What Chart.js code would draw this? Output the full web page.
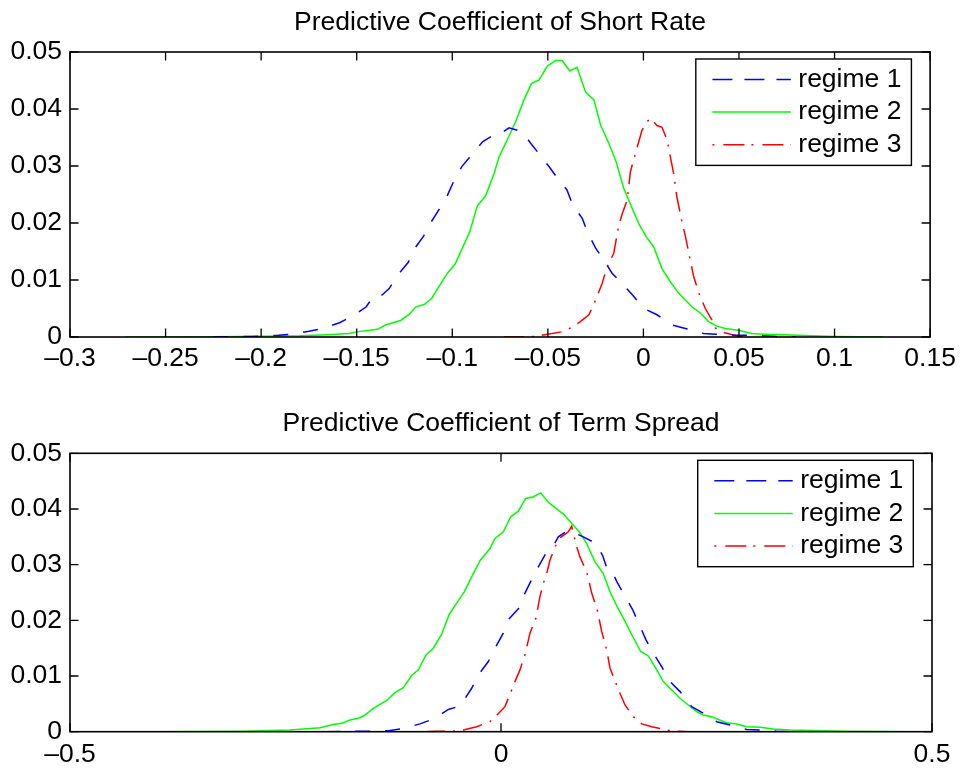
<!DOCTYPE html>
<html><head><meta charset="utf-8">
<script src="https://cdn.jsdelivr.net/npm/chart.js@4.4.1/dist/chart.umd.min.js"></script>
<style>
html,body{margin:0;padding:0;background:#fff;}
#wrap{position:relative;width:962px;height:772px;overflow:hidden;}
canvas{position:absolute;left:0;}
#c1{top:0;} #c2{top:386px;}
</style></head><body>
<div id="wrap"><canvas id="c1" width="962" height="386"></canvas><canvas id="c2" width="962" height="386"></canvas></div>
<script>
// ---------- data ----------
const seriesLabels = ['regime 1', 'regime 2', 'regime 3'];
const titleTop = 'Predictive Coefficient of Short Rate';
const titleBottom = 'Predictive Coefficient of Term Spread';

const xTicksTop = [-0.3, -0.25, -0.2, -0.15, -0.1, -0.05, 0, 0.05, 0.1, 0.15];
const xTicksBottom = [-0.5, 0, 0.5];
const yTicks = [0, 0.01, 0.02, 0.03, 0.04, 0.05];

// Short rate, regime 1
const srR1x = [-0.225,-0.205,-0.191,-0.184,-0.175,-0.168,-0.159,-0.152,-0.145,-0.142,-0.139,-0.133,-0.129,-0.123,-0.12,-0.115,-0.111,-0.1065,-0.1025,-0.099,-0.095,-0.0895,-0.084,-0.077,-0.0755,-0.0703,-0.0634,-0.059,-0.054,-0.0494,-0.0442,-0.04,-0.037,-0.032,-0.029,-0.025,-0.0207,-0.0164,-0.0103,-0.005,0.0002,0.0071,0.0149,0.022,0.0315,0.038,0.048,0.055,0.07,0.08];
const srR1y = [0,0.0001,0.0003,0.0005,0.001,0.0015,0.0025,0.0037,0.0053,0.0068,0.0067,0.0085,0.0107,0.0131,0.0154,0.0177,0.0202,0.0226,0.0249,0.0275,0.0299,0.0321,0.0343,0.0357,0.0355,0.0367,0.036,0.034,0.0319,0.0299,0.0275,0.0258,0.0232,0.0208,0.0182,0.0156,0.0135,0.0112,0.0091,0.0071,0.005,0.0039,0.0021,0.0015,0.0006,0.0005,0.0003,0.0003,0.0001,0];
// Short rate, regime 2
const srR2x = [-0.271,-0.24,-0.21,-0.18,-0.165,-0.154,-0.15,-0.139,-0.135,-0.127,-0.1225,-0.119,-0.1147,-0.1107,-0.1065,-0.1025,-0.0985,-0.0947,-0.0908,-0.0869,-0.0825,-0.0781,-0.0755,-0.0712,-0.0668,-0.0625,-0.0585,-0.0546,-0.0503,-0.0459,-0.0425,-0.0386,-0.0347,-0.0303,-0.0259,-0.0224,-0.0181,-0.0143,-0.0103,-0.0063,-0.0024,0.0014,0.0054,0.0097,0.0141,0.0184,0.0219,0.0254,0.0298,0.0341,0.0384,0.0428,0.0498,0.0567,0.0628,0.0811,0.1,0.1255];
const srR2y = [0,0,0.0001,0.0002,0.0004,0.0006,0.0009,0.00135,0.0021,0.0029,0.004,0.0053,0.0057,0.0068,0.0091,0.0112,0.0128,0.0156,0.0185,0.023,0.0248,0.0287,0.0316,0.0346,0.0378,0.0416,0.0445,0.0451,0.0475,0.0485,0.0485,0.0467,0.0473,0.043,0.0416,0.0372,0.034,0.0308,0.0261,0.0229,0.0199,0.0176,0.0158,0.012,0.0097,0.0077,0.0065,0.0053,0.0042,0.0027,0.0019,0.0015,0.0012,0.0006,0.0005,0.0003,0.0001,0];
// Short rate, regime 3
const srR3x = [-0.073,-0.056,-0.05,-0.043,-0.038,-0.033,-0.0285,-0.025,-0.0216,-0.019,-0.0155,-0.013,-0.011,-0.0085,-0.0068,-0.0042,-0.0007,0.002,0.0037,0.0071,0.0097,0.0125,0.0141,0.0158,0.0175,0.0202,0.022,0.0245,0.0263,0.029,0.0324,0.0358,0.0376,0.042,0.05,0.055];
const srR3y = [0,0.0001,0.0005,0.0009,0.0016,0.0027,0.0039,0.0065,0.0094,0.0123,0.0147,0.0194,0.0217,0.024,0.029,0.0322,0.0363,0.0378,0.0384,0.0371,0.0368,0.0345,0.0316,0.0287,0.0246,0.0202,0.0176,0.0135,0.0106,0.0077,0.005,0.003,0.0016,0.0008,0.0001,0];

// Term spread, regime 1
const tsR1x = [-0.204,-0.1655,-0.15,-0.1288,-0.1133,-0.094,-0.0766,-0.0611,-0.0476,-0.034,-0.0263,-0.0147,-0.007,0.0027,0.0085,0.022,0.0278,0.0368,0.0444,0.053,0.06,0.0665,0.0781,0.0955,0.1102,0.118,0.1245,0.13,0.1342,0.1439,0.1528,0.1605,0.1682,0.1767,0.1864,0.196,0.2077,0.2212,0.2347,0.2502,0.2657,0.285,0.3005,0.3198,0.3353];
const tsR1y = [0,0.0001,0.0001,0.0002,0.0006,0.0014,0.0024,0.004,0.0046,0.0078,0.0102,0.0126,0.015,0.0177,0.0201,0.0224,0.0249,0.0277,0.0299,0.0323,0.0332,0.035,0.0362,0.035,0.0338,0.0316,0.0286,0.0284,0.027,0.0243,0.0219,0.0192,0.0165,0.0141,0.0117,0.009,0.0072,0.0045,0.0033,0.0018,0.0012,0.0004,0.0003,0.0001,0];
// Term spread, regime 2
const tsR2x = [-0.406,-0.3,-0.2448,-0.21,-0.1945,-0.1848,-0.1752,-0.1655,-0.1578,-0.1481,-0.1326,-0.123,-0.1133,-0.1036,-0.0959,-0.087,-0.0785,-0.0688,-0.06,-0.0514,-0.0426,-0.034,-0.0244,-0.0128,-0.007,0.0027,0.0113,0.0201,0.0287,0.0375,0.0461,0.0549,0.0638,0.0731,0.082,0.0908,0.0994,0.109,0.1187,0.1265,0.1349,0.1439,0.1528,0.1621,0.1709,0.1795,0.1883,0.198,0.2077,0.2173,0.227,0.2347,0.2444,0.2521,0.2618,0.2734,0.285,0.3005,0.3159,0.3353,0.4,0.4722];
const tsR2y = [0,0.0001,0.0003,0.0007,0.0013,0.0015,0.0021,0.0024,0.003,0.0042,0.0056,0.007,0.0079,0.0101,0.0111,0.0138,0.015,0.0175,0.0211,0.0231,0.0251,0.0278,0.0307,0.0329,0.0347,0.0359,0.0386,0.0396,0.0419,0.0422,0.0429,0.0412,0.0401,0.039,0.0374,0.0359,0.0338,0.0305,0.0284,0.0251,0.0224,0.0198,0.0171,0.0144,0.0136,0.0114,0.009,0.0075,0.006,0.0048,0.0036,0.003,0.0027,0.0022,0.0016,0.0014,0.0009,0.0008,0.0005,0.0003,0.0001,0];
// Term spread, regime 3
const tsR3x = [-0.0882,-0.0746,-0.0553,-0.0437,-0.0282,-0.0128,-0.0046,0.0046,0.0124,0.0162,0.022,0.0278,0.0305,0.0336,0.0406,0.0452,0.0499,0.053,0.0568,0.0626,0.0693,0.0781,0.082,0.0878,0.0916,0.0994,0.1024,0.1052,0.1117,0.1168,0.1226,0.1265,0.1334,0.138,0.1439,0.1535,0.1632,0.1748,0.1922,0.2035,0.2193];
const tsR3y = [0,0.0001,0.0001,0.0003,0.0009,0.0018,0.003,0.0045,0.0075,0.009,0.0111,0.0138,0.0156,0.0177,0.0204,0.0243,0.027,0.0284,0.0308,0.0332,0.0349,0.0359,0.0369,0.0332,0.0314,0.0287,0.0268,0.0249,0.0219,0.018,0.0147,0.0114,0.0087,0.0069,0.0048,0.0027,0.0014,0.0009,0.0003,0.0001,0];

// ---------- styling ----------
const FONT = "'Liberation Sans', Arial, Helvetica, sans-serif";
const FS = 26.5;
const colors = ['#0000ff', '#00ff00', '#ff0000'];
const plotDash = [[15, 15], [], [20, 8, 2, 8]];
const legendDash = [[20, 12], [], [2, 9, 21, 7]];

function fmt(v) {
  if (v === 0) return '0';
  return v < 0 ? '\u2013' + String(-v) : String(v);
}
function pts(xs, ys) { return xs.map((x, i) => ({ x: x, y: ys[i] })); }

const framePlugin = {
  id: 'matlabFrame',
  afterDatasetsDraw(chart) {
    const ctx = chart.ctx, a = chart.chartArea, x = chart.scales.x, y = chart.scales.y;
    const L = 8.5;
    ctx.save();
    ctx.strokeStyle = '#000';
    ctx.lineWidth = 1.3;
    ctx.setLineDash([]);
    ctx.beginPath();
    x.ticks.forEach(t => {
      const px = x.getPixelForValue(t.value);
      ctx.moveTo(px, a.bottom); ctx.lineTo(px, a.bottom - L);
      ctx.moveTo(px, a.top); ctx.lineTo(px, a.top + L);
    });
    y.ticks.forEach(t => {
      const py = y.getPixelForValue(t.value);
      ctx.moveTo(a.left, py); ctx.lineTo(a.left + L, py);
      ctx.moveTo(a.right, py); ctx.lineTo(a.right - L, py);
    });
    ctx.stroke();
    ctx.lineWidth = 1.6;
    ctx.strokeRect(a.left, a.top, a.right - a.left, a.bottom - a.top);
    ctx.restore();
  }
};

const legendPlugin = {
  id: 'boxLegend',
  afterDraw(chart, args, opts) {
    const ctx = chart.ctx, a = chart.chartArea;
    const w = 215.6, h = 106.4;
    const bx = a.right - 18.7 - w, by = a.top + (opts.offsetTop || 7);
    ctx.save();
    ctx.fillStyle = '#fff';
    ctx.fillRect(bx, by, w, h);
    ctx.strokeStyle = '#000';
    ctx.lineWidth = 1.4;
    ctx.setLineDash([]);
    ctx.strokeRect(bx, by, w, h);
    chart.data.datasets.forEach((ds, i) => {
      const yy = by + 20.5 + i * 32.6;
      ctx.beginPath();
      ctx.setLineDash(legendDash[i]);
      ctx.strokeStyle = ds.borderColor;
      ctx.lineWidth = ds.borderWidth;
      ctx.moveTo(bx + 16.6, yy);
      ctx.lineTo(bx + 95, yy);
      ctx.stroke();
      ctx.setLineDash([]);
      ctx.fillStyle = '#000';
      ctx.font = FS + 'px ' + FONT;
      ctx.textBaseline = 'middle';
      ctx.textAlign = 'left';
      ctx.fillText(ds.label, bx + 102.5, yy);
    });
    ctx.restore();
  }
};

function makeChart(id, cfg) {
  const datasets = cfg.series.map((s, i) => ({
    label: seriesLabels[i],
    data: pts(s[0], s[1]),
    borderColor: colors[i],
    backgroundColor: colors[i],
    borderWidth: 1.5,
    borderDash: plotDash[i],
    pointRadius: 0,
    tension: 0,
    fill: false
  }));
  return new Chart(document.getElementById(id), {
    type: 'line',
    data: { datasets: datasets },
    options: {
      responsive: false,
      animation: false,
      devicePixelRatio: 1,
      layout: { padding: { left: 0, right: 30, top: 0, bottom: 0 } },
      plugins: {
        legend: { display: false },
        tooltip: { enabled: false },
        title: {
          display: true, text: cfg.title, fullSize: false, color: '#000',
          font: { family: FONT, size: FS, weight: 'normal', lineHeight: 1.2 },
          padding: { top: cfg.tpTop, bottom: cfg.tpBottom }
        },
        boxLegend: { offsetTop: 7 }
      },
      scales: {
        x: {
          type: 'linear', min: cfg.xMin, max: cfg.xMax,
          grid: { display: false, drawTicks: false },
          border: { display: false },
          afterBuildTicks: s => { s.ticks = cfg.xTicks.map(v => ({ value: v })); },
          afterFit: s => { s.height = cfg.xHeight; },
          ticks: {
            autoSkip: false, maxRotation: 0, minRotation: 0, padding: cfg.xPad, color: '#000',
            font: { family: FONT, size: FS }, callback: v => fmt(v)
          }
        },
        y: {
          type: 'linear', min: 0, max: 0.05,
          grid: { display: false, drawTicks: false },
          border: { display: false },
          afterBuildTicks: s => { s.ticks = yTicks.map(v => ({ value: v })); },
          afterFit: s => { s.width = 70; },
          ticks: {
            padding: 8, color: '#000',
            font: { family: FONT, size: FS }, callback: v => fmt(v)
          }
        }
      }
    },
    plugins: [framePlugin, legendPlugin]
  });
}

makeChart('c1', {
  title: titleTop, tpTop: 6.6, tpBottom: 13.6,
  xMin: -0.3, xMax: 0.15, xTicks: xTicksTop, xHeight: 49, xPad: 6.1,
  series: [[srR1x, srR1y], [srR2x, srR2y], [srR3x, srR3y]]
});
makeChart('c2', {
  title: titleBottom, tpTop: 22.2, tpBottom: 13.3,
  xMin: -0.5, xMax: 0.5, xTicks: xTicksBottom, xHeight: 40.3, xPad: 7.4,
  series: [[tsR1x, tsR1y], [tsR2x, tsR2y], [tsR3x, tsR3y]]
});
</script>
</body></html>
